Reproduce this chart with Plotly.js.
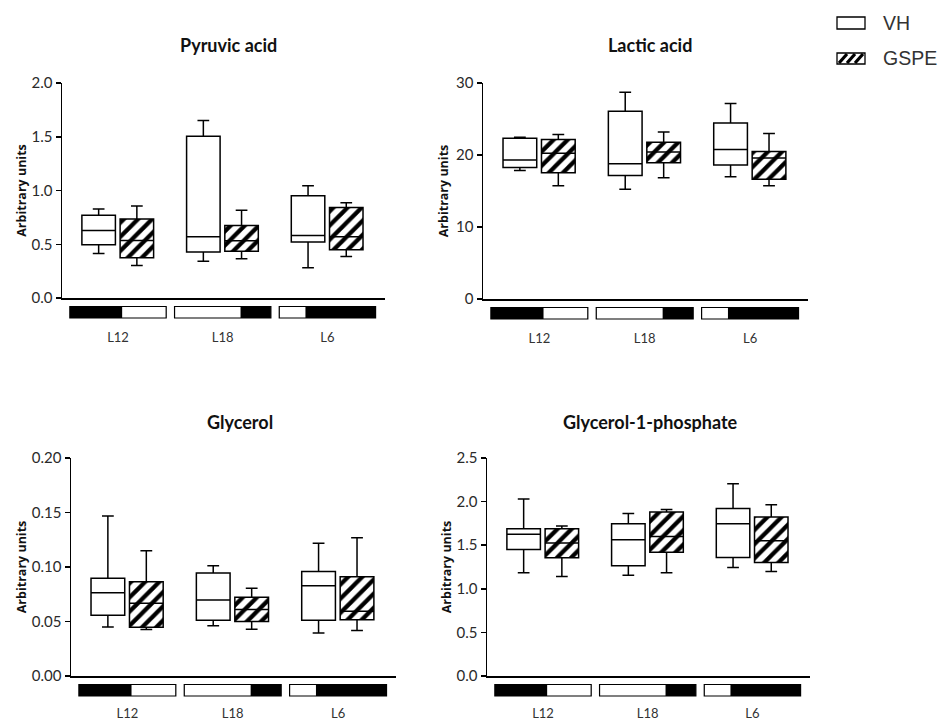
<!DOCTYPE html>
<html><head><meta charset="utf-8">
<script src="https://cdn.plot.ly/plotly-3.0.1.min.js"></script>
<style>html,body{margin:0;padding:0;background:#fff}#chart{width:950px;height:720px}</style>
</head><body><div id="chart"></div>
<script>
const categories = ['L12', 'L18', 'L6'];
const seriesNames = ['VH', 'GSPE'];
// five-number summaries per category: [lower whisker, Q1, median, Q3, upper whisker]
const pyruvicVH    = [[0.414, 0.495, 0.628, 0.770, 0.828], [0.343, 0.427, 0.569, 1.505, 1.651], [0.281, 0.522, 0.581, 0.952, 1.045]];
const pyruvicGSPE  = [[0.303, 0.374, 0.535, 0.736, 0.856], [0.365, 0.436, 0.532, 0.674, 0.816], [0.386, 0.448, 0.569, 0.841, 0.887]];
const lacticVH     = [[17.86, 18.28, 19.29, 22.34, 22.48], [15.23, 17.17, 18.78, 26.08, 28.71], [16.98, 18.60, 20.77, 24.46, 27.14]];
const lacticGSPE   = [[15.74, 17.54, 20.26, 22.15, 22.85], [16.85, 18.92, 20.40, 21.78, 23.21], [15.74, 16.62, 19.57, 20.49, 22.98]];
const glycerolVH   = [[0.0450, 0.0557, 0.0763, 0.0897, 0.1467], [0.0462, 0.0511, 0.0698, 0.0946, 0.1011], [0.0395, 0.0511, 0.0827, 0.0959, 0.1219]];
const glycerolGSPE = [[0.0426, 0.0447, 0.0668, 0.0864, 0.1149], [0.0429, 0.0499, 0.0609, 0.0723, 0.0806], [0.0417, 0.0515, 0.0594, 0.0910, 0.1268]];
const g1pVH        = [[1.183, 1.451, 1.627, 1.688, 2.029], [1.156, 1.263, 1.562, 1.746, 1.864], [1.244, 1.359, 1.746, 1.922, 2.205]];
const g1pGSPE      = [[1.141, 1.355, 1.524, 1.688, 1.719], [1.183, 1.420, 1.600, 1.880, 1.910], [1.198, 1.302, 1.551, 1.822, 1.964]];
const panelTitles = ['Pyruvic acid', 'Lactic acid', 'Glycerol', 'Glycerol-1-phosphate'];
const yRanges   = [[0, 2], [0, 30], [0, 0.2], [0, 2.5]];
const yTickVals = [[0, 0.5, 1, 1.5, 2], [0, 10, 20, 30], [0, 0.05, 0.1, 0.15, 0.2], [0, 0.5, 1, 1.5, 2, 2.5]];
const yTickText = [['0.0', '0.5', '1.0', '1.5', '2.0'], ['0', '10', '20', '30'], ['0.00', '0.05', '0.10', '0.15', '0.20'], ['0.0', '0.5', '1.0', '1.5', '2.0', '2.5']];
// light phase (white part) of each sampling bar, as fraction of bar length
const lightPhase = [[0.543, 1], [0, 0.685], [0, 0.272]];

const panelData = [[pyruvicVH, pyruvicGSPE], [lacticVH, lacticGSPE], [glycerolVH, glycerolGSPE], [g1pVH, g1pGSPE]];

// ---- geometry (pixels) ----
const W = 950, H = 720;
const plotBoxes = [[62, 385, 83, 298], [483, 808, 83, 299], [71, 396, 458, 676], [487, 810, 458, 676]];
const titlePos = [[228, 45], [650, 45], [240, 422], [650, 422]];
const labelStandoff = [27, 27, 25, 25];
const VH_OFF = -0.185, GSPE_OFF = 0.18, BOXW = 0.32, BAR_HALF = 0.46;
const px = v => v / W, py = v => 1 - v / H;

const FONT = 'Lato, "Open Sans", sans-serif';
const traces = [], shapes = [], annotations = [];
const layout = {
  width: W, height: H, margin: {l: 0, r: 0, t: 0, b: 0},
  paper_bgcolor: '#fff', plot_bgcolor: 'rgba(0,0,0,0)',
  showlegend: false, font: {family: FONT, color: '#333'},
  barmode: 'overlay', boxmode: 'overlay'
};

panelData.forEach((pd, p) => {
  const sfx = p === 0 ? '' : String(p + 1);
  const xa = 'x' + sfx, ya = 'y' + sfx;
  const [vh, gs] = pd;
  const idx = categories.map((c, i) => i);
  const stat = (arr, k) => arr.map(s => s[k]);

  // hatched fill for GSPE (interquartile range)
  traces.push({
    type: 'bar', xaxis: xa, yaxis: ya, hoverinfo: 'skip',
    x: idx.map(i => i + GSPE_OFF), base: stat(gs, 1), y: gs.map(s => s[3] - s[1]), width: BOXW,
    marker: {color: '#fff', line: {width: 0}, pattern: {shape: '/', fgcolor: '#000', bgcolor: '#fff', size: 10, solidity: 0.42}}
  });
  [[vh, VH_OFF, seriesNames[0]], [gs, GSPE_OFF, seriesNames[1]]].forEach(([s, off, nm]) => {
    traces.push({
      type: 'box', name: nm, orientation: 'v', xaxis: xa, yaxis: ya,
      x: idx.map(i => i + off),
      lowerfence: stat(s, 0), q1: stat(s, 1), median: stat(s, 2), q3: stat(s, 3), upperfence: stat(s, 4),
      width: BOXW, whiskerwidth: 0.35, boxpoints: false,
      fillcolor: 'rgba(255,255,255,0)', line: {color: '#000', width: 1.5}
    });
  });

  const [l, r, t, b] = plotBoxes[p];
  layout['xaxis' + sfx] = {
    domain: [px(l), px(r)], anchor: ya, range: [-0.535, 2.55],
    showline: true, linecolor: '#000', linewidth: 1.5, ticks: '', showgrid: false, zeroline: false,
    tickvals: idx, ticktext: categories, tickfont: {family: FONT, size: 13, color: '#333'},
    ticklabelstandoff: labelStandoff[p], fixedrange: true
  };
  layout['yaxis' + sfx] = {
    domain: [py(b), py(t)], anchor: xa, range: yRanges[p],
    showline: true, linecolor: '#000', linewidth: 1.5, ticks: 'outside', ticklen: 5, tickwidth: 1.5, tickcolor: '#000',
    tickvals: yTickVals[p], ticktext: yTickText[p], tickfont: {family: FONT, size: 15, color: '#2a2a2a'},
    showgrid: false, zeroline: false, fixedrange: true,
    title: {text: '<b>Arbitrary units</b>', font: {family: '"Open Sans", Lato, sans-serif', size: 12.5, color: '#111'}}
  };

  // light/dark sampling bars below the x axis
  idx.forEach(i => {
    const x0 = i - BAR_HALF, len = 2 * BAR_HALF;
    const base = {type: 'rect', xref: xa, yref: ya + ' domain', ysizemode: 'pixel', yanchor: 0, y0: -8.5, y1: -20};
    shapes.push(Object.assign({}, base, {x0: x0, x1: x0 + len, fillcolor: '#000', line: {width: 0}}));
    shapes.push(Object.assign({}, base, {x0: x0 + len * lightPhase[i][0], x1: x0 + len * lightPhase[i][1], fillcolor: '#fff', line: {width: 0}}));
    shapes.push(Object.assign({}, base, {x0: x0, x1: x0 + len, fillcolor: 'rgba(0,0,0,0)', line: {color: '#000', width: 1.2}}));
  });

  annotations.push({
    xref: 'paper', yref: 'paper', x: px(titlePos[p][0]), y: py(titlePos[p][1]), xanchor: 'center', yanchor: 'middle',
    text: '<b>' + panelTitles[p] + '</b>', showarrow: false, font: {family: FONT, size: 18, color: '#111'}
  });
});

// legend (drawn as shapes + text)
shapes.push({type: 'rect', xref: 'paper', yref: 'paper', x0: px(837), x1: px(865), y0: py(29), y1: py(17), fillcolor: '#fff', line: {color: '#000', width: 1.3}});
shapes.push({type: 'rect', xref: 'paper', yref: 'paper', x0: px(837), x1: px(865), y0: py(64), y1: py(53), fillcolor: '#fff', line: {color: '#000', width: 1.3}});
[838, 846, 854].forEach(sx => {
  shapes.push({type: 'line', xref: 'paper', yref: 'paper', x0: px(sx + 1), y0: py(63), x1: px(sx + 9), y1: py(54), line: {color: '#000', width: 3.2}});
});
annotations.push({xref: 'paper', yref: 'paper', x: px(881), y: py(23), xanchor: 'left', yanchor: 'middle', text: seriesNames[0], showarrow: false, font: {family: '"Liberation Sans", Arial, sans-serif', size: 19.5, color: '#333'}});
annotations.push({xref: 'paper', yref: 'paper', x: px(881), y: py(58), xanchor: 'left', yanchor: 'middle', text: seriesNames[1], showarrow: false, font: {family: '"Liberation Sans", Arial, sans-serif', size: 19.5, color: '#333'}});

layout.shapes = shapes;
layout.annotations = annotations;
Plotly.newPlot('chart', traces, layout, {staticPlot: true, displayModeBar: false});
</script>
</body></html>
